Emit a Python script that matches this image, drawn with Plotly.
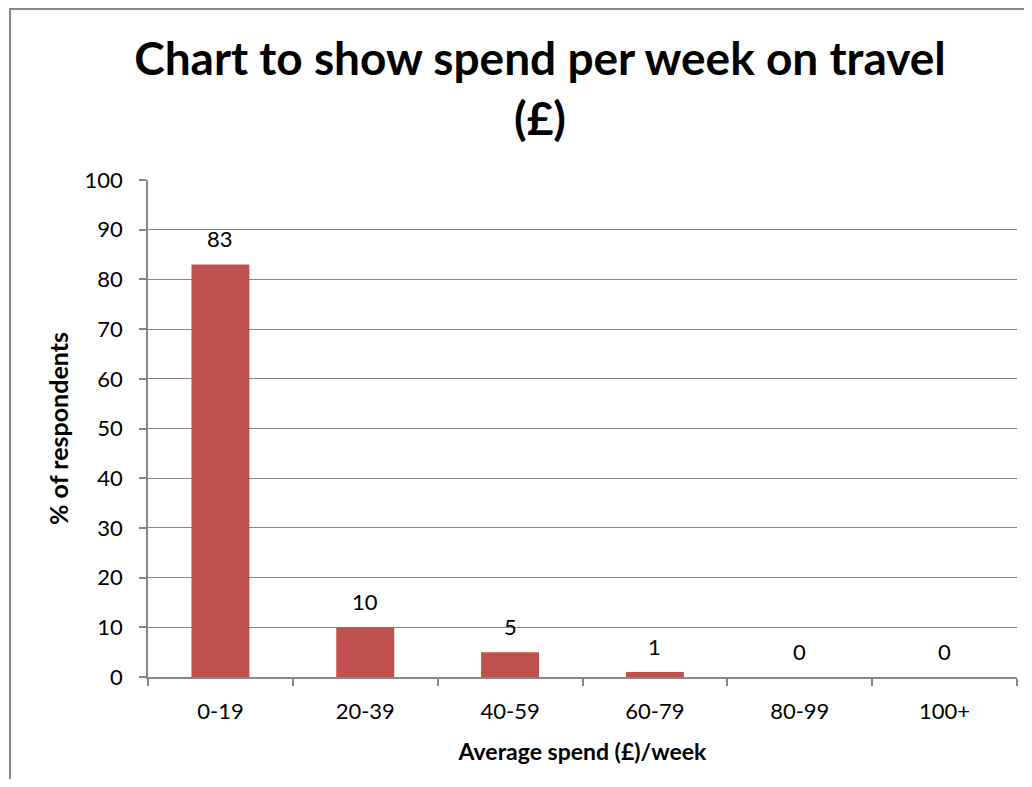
import plotly.graph_objects as go

categories = ["0-19", "20-39", "40-59", "60-79", "80-99", "100+"]
values = [83, 10, 5, 1, 0, 0]
y_ticks = [0, 10, 20, 30, 40, 50, 60, 70, 80, 90, 100]

# page has an 8px body margin; figure coordinates = page - 8
W, H = 1016, 771
L, R, T, B = 140, 7, 172, 102
pw, ph = W - L - R, H - T - B

FONT = "Lato"
grid = "#878787"

fig = go.Figure()
fig.add_trace(go.Bar(
    x=categories, y=values,
    marker=dict(color="#C0504D", line=dict(width=0)),
    cliponaxis=False,
))

for c, v in zip(categories, values):
    fig.add_annotation(x=c, y=v, text=str(v), showarrow=False,
                       yanchor="middle", yshift=26,
                       font=dict(family=FONT, size=22, color="#000000"))

# outer chart border (cropped on right and bottom)
fig.add_shape(type="rect", xref="paper", yref="paper",
              x0=(2 - L) / pw, x1=(1040 - L) / pw,
              y0=(H - B - 800) / ph, y1=(H - B - 1) / ph,
              line=dict(color="#888888", width=2), fillcolor="rgba(0,0,0,0)", layer="below")

fig.update_layout(
    width=W, height=H,
    margin=dict(l=L, r=R, t=T, b=B),
    paper_bgcolor="white", plot_bgcolor="white",
    bargap=0.6,
    showlegend=False,
    font=dict(family=FONT, color="#000000"),
    title=dict(text="<b>Chart to show spend per week on travel<br>(£)</b>",
               x=532 / W, xanchor="center", y=1 - 67 / H, yanchor="middle",
               font=dict(family=FONT, size=46, color="#000000")),
    xaxis=dict(
        showgrid=False, showline=True, linecolor=grid, linewidth=1.5,
        ticks="outside", ticklen=7, tickcolor=grid, tickwidth=1.5,
        tickson="boundaries",
        tickfont=dict(family=FONT, size=22, color="#000000"), ticklabelstandoff=14,
        title=dict(text="<b>Average spend (£)/week</b>", standoff=21,
                   font=dict(family=FONT, size=23, color="#000000")),
    ),
    yaxis=dict(
        range=[0, 100], tickvals=y_ticks, showgrid=True, gridcolor=grid, gridwidth=1.2,
        showline=True, linecolor=grid, linewidth=1.5,
        ticks="outside", ticklen=7, tickcolor=grid, tickwidth=1.5,
        tickfont=dict(family=FONT, size=22, color="#000000"), ticklabelstandoff=12,
        zeroline=False,
        title=dict(text="<b>% of respondents</b>", standoff=9,
                   font=dict(family=FONT, size=25, color="#000000")),
    ),
)

fig.write_html("out.html")
